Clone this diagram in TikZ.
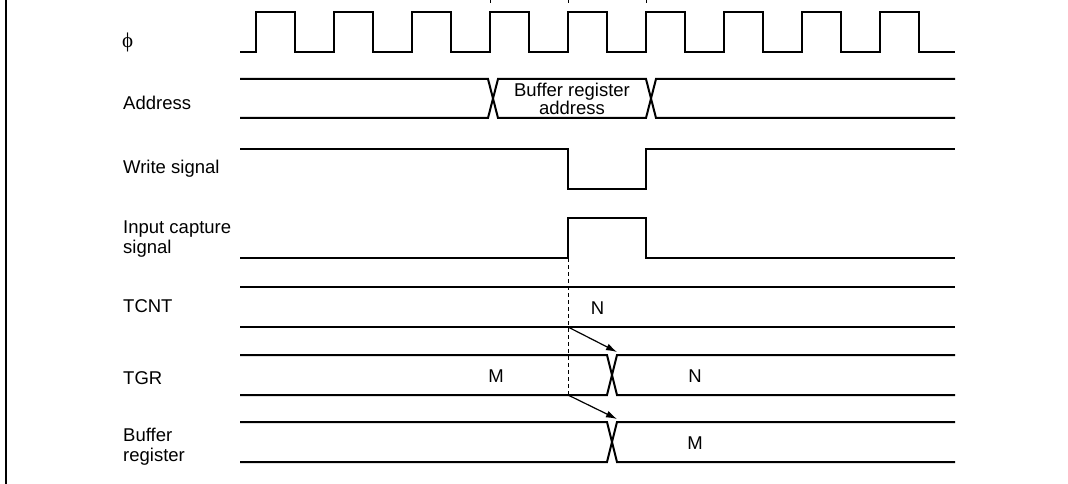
\documentclass[tikz,border=0pt]{standalone}
\usepackage{fontspec}
\setmainfont{Liberation Sans}
\newfontfamily\phifont{Liberation Serif}
\usetikzlibrary{arrows.meta}
\begin{document}
\begin{tikzpicture}[x=1pt,y=-1pt,
  sig/.style={line width=2pt, line join=miter},
  lbl/.style={font=\fontsize{18.5}{20}\selectfont, anchor=base west, inner sep=0pt, align=left},
  val/.style={font=\fontsize{18.5}{18.3}\selectfont, inner sep=0pt, align=center},
  guide/.style={line width=1pt, dash pattern=on 4pt off 3pt},
  tick/.style={line width=0.8pt},
  cause/.style={line width=1.2pt, -{Latex[length=11pt,width=7pt]}}]
\useasboundingbox (0,0) rectangle (1068,484);
% frame line
\draw[line width=2pt] (6,0) -- (6,484);
% labels
\node[lbl, font=\phifont\fontsize{21}{22}\selectfont] (lphi) at (122,48) {ϕ};
\node[lbl] (laddr) at (123,110) {Address};
\node[lbl] (lwr) at (123,173) {Write signal};
\node[lbl] (lcap) at (123,253) {Input capture\\signal};
\node[lbl] (ltcnt) at (123,312) {TCNT};
\node[lbl] (ltgr) at (123,384) {TGR};
\node[lbl] (lbuf) at (123,461) {Buffer\\register};
% ticks
\foreach \x in {490,568,646} \draw[tick] (\x,0) -- (\x,3);
% clock
\draw[sig] (240,52) \foreach \k in {0,...,8} { -- ({256+78*\k},52) -- ({256+78*\k},12) -- ({295+78*\k},12) -- ({295+78*\k},52) } -- (955,52);
% address
\draw[sig] (240,79) -- (488,79) -- (498,118) -- (646,118) -- (656,79) -- (955,79);
\draw[sig] (240,118) -- (488,118) -- (498,79) -- (646,79) -- (656,118) -- (955,118);
\node[val, anchor=base] (vaddr) at (572,115) {Buffer register\\address};
% write signal
\draw[sig] (240,149) -- (568,149) -- (568,189) -- (646,189) -- (646,149) -- (955,149);
% input capture
\draw[sig] (240,258) -- (568,258) -- (568,218) -- (646,218) -- (646,258) -- (955,258);
% TCNT
\draw[sig] (240,287) -- (955,287);
\draw[sig] (240,327) -- (955,327);
\node[val] (vtcnt) at (597.5,308) {N};
% TGR
\draw[sig] (240,355) -- (607,355) -- (617,395) -- (955,395);
\draw[sig] (240,395) -- (607,395) -- (617,355) -- (955,355);
\node[val] (vtgrm) at (496,376) {M};
\node[val] (vtgrn) at (695,376) {N};
% buffer register
\draw[sig] (240,422) -- (607,422) -- (617,462) -- (955,462);
\draw[sig] (240,462) -- (607,462) -- (617,422) -- (955,422);
\node[val] (vbufm) at (695,443) {M};
% guide and cause arrows
\coordinate (gtop) at (568,258);
\coordinate (gbot) at (568,395);
\draw[guide] (gtop) -- (gbot);
\coordinate (a1s) at (568,327);
\coordinate (a1e) at (617,352);
\coordinate (a2s) at (568,395);
\coordinate (a2e) at (617,419);
\draw[cause] (a1s) -- (a1e);
\draw[cause] (a2s) -- (a2e);
\end{tikzpicture}
\end{document}
